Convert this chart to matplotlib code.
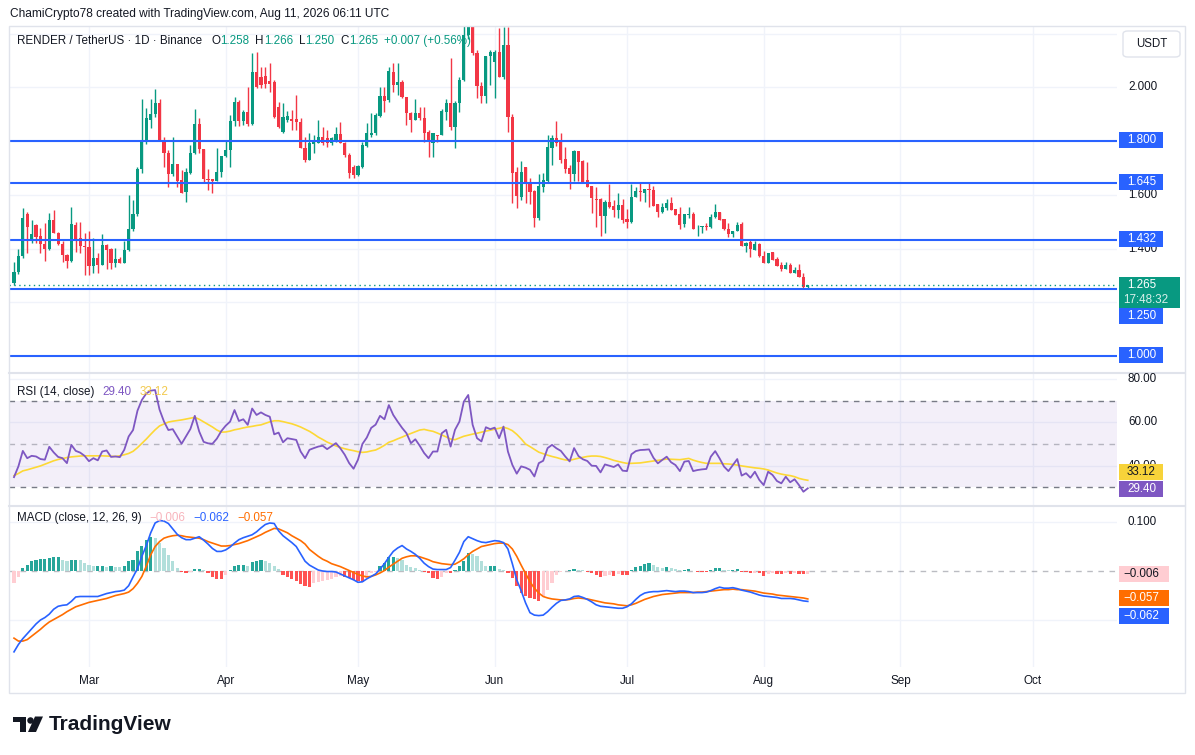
import numpy as np
import pandas as pd
import matplotlib
matplotlib.use("Agg")
import matplotlib.pyplot as plt
import matplotlib.dates as mdates
import matplotlib.transforms as mtrans
from matplotlib.patches import Rectangle, FancyBboxPatch, Polygon, Ellipse
from matplotlib.lines import Line2D

plt.rcParams["font.family"] = ["Liberation Sans", "DejaVu Sans"]

# ---------------- data (daily, from 2026-02-12) ----------------
START = "2026-02-12"
opens = [1.270, 1.311, 1.373, 1.528, 1.432, 1.487, 1.447, 1.418, 1.398, 1.506,
         1.459, 1.416, 1.375, 1.355, 1.487, 1.438, 1.411, 1.406, 1.336, 1.365,
         1.340, 1.412, 1.397, 1.347, 1.361, 1.347, 1.394, 1.471, 1.528, 1.696,
         1.796, 1.878, 1.899, 1.940, 1.804, 1.757, 1.677, 1.714, 1.655, 1.612,
         1.682, 1.754, 1.863, 1.769, 1.659, 1.657, 1.652, 1.683, 1.744, 1.767,
         1.874, 1.946, 1.874, 1.909, 1.863, 2.058, 2.039, 2.042, 2.023, 2.021,
         1.925, 1.835, 1.878, 1.882, 1.882, 1.870, 1.775, 1.729, 1.789, 1.794,
         1.814, 1.810, 1.794, 1.801, 1.826, 1.791, 1.748, 1.705, 1.674, 1.705,
         1.781, 1.822, 1.829, 1.893, 1.967, 1.953, 2.058, 2.008, 2.021, 1.963,
         1.905, 1.878, 1.905, 1.887, 1.832, 1.794, 1.822, 1.822, 1.909, 1.943,
         1.853, 1.943, 2.027, 2.194, 2.225, 2.126, 2.005, 1.968, 2.116, 2.095,
         2.132, 2.039, 2.157, 1.891, 1.686, 1.593, 1.705, 1.645, 1.614, 1.515,
         1.630, 1.651, 1.775, 1.810, 1.797, 1.733, 1.701, 1.677, 1.763, 1.726,
         1.655, 1.633, 1.584, 1.584, 1.521, 1.573, 1.558, 1.543, 1.562, 1.510,
         1.497, 1.590, 1.615, 1.608, 1.621, 1.618, 1.566, 1.537, 1.552, 1.570,
         1.547, 1.528, 1.491, 1.523, 1.527, 1.475, 1.479, 1.484, 1.481, 1.518,
         1.535, 1.510, 1.471, 1.454, 1.466, 1.491, 1.411, 1.425, 1.394, 1.417,
         1.372, 1.347, 1.386, 1.360, 1.339, 1.323, 1.339, 1.308, 1.320, 1.295,
         1.258]
highs = [1.349, 1.400, 1.550, 1.535, 1.506, 1.492, 1.475, 1.494, 1.531, 1.543,
         1.462, 1.428, 1.380, 1.553, 1.500, 1.500, 1.456, 1.466, 1.438, 1.383,
         1.453, 1.417, 1.401, 1.401, 1.370, 1.428, 1.599, 1.581, 1.705, 1.956,
         1.922, 1.956, 1.992, 1.955, 1.814, 1.767, 1.814, 1.714, 1.692, 1.698,
         1.785, 1.918, 1.884, 1.770, 1.696, 1.660, 1.773, 1.744, 1.804, 1.897,
         1.965, 1.953, 1.915, 2.002, 2.129, 2.130, 2.077, 2.077, 2.089, 2.027,
         1.946, 1.943, 1.910, 1.915, 1.971, 1.884, 1.816, 1.829, 1.822, 1.878,
         1.853, 1.841, 1.815, 1.853, 1.872, 1.797, 1.754, 1.710, 1.710, 1.797,
         1.866, 1.903, 1.903, 2.002, 2.002, 2.077, 2.089, 2.089, 2.027, 1.963,
         1.909, 1.955, 1.925, 1.925, 1.840, 1.829, 1.822, 1.921, 1.955, 2.108,
         1.950, 2.039, 2.250, 2.270, 2.270, 2.139, 2.020, 2.116, 2.139, 2.139,
         2.219, 2.225, 2.225, 1.900, 1.705, 1.726, 1.705, 1.661, 1.618, 1.676,
         1.680, 1.822, 1.822, 1.874, 1.828, 1.776, 1.711, 1.766, 1.763, 1.728,
         1.723, 1.633, 1.628, 1.587, 1.581, 1.640, 1.581, 1.605, 1.583, 1.546,
         1.640, 1.630, 1.645, 1.620, 1.645, 1.632, 1.566, 1.570, 1.583, 1.590,
         1.547, 1.556, 1.527, 1.556, 1.537, 1.487, 1.484, 1.494, 1.527, 1.564,
         1.537, 1.510, 1.494, 1.466, 1.499, 1.500, 1.425, 1.431, 1.429, 1.420,
         1.392, 1.385, 1.386, 1.370, 1.351, 1.351, 1.345, 1.330, 1.342, 1.310,
         1.266]
lows = [1.264, 1.305, 1.365, 1.385, 1.419, 1.420, 1.382, 1.355, 1.395, 1.456,
        1.412, 1.351, 1.326, 1.350, 1.388, 1.382, 1.301, 1.301, 1.308, 1.308,
        1.337, 1.323, 1.323, 1.332, 1.345, 1.345, 1.390, 1.465, 1.520, 1.680,
        1.790, 1.847, 1.890, 1.804, 1.705, 1.630, 1.670, 1.630, 1.605, 1.574,
        1.678, 1.750, 1.754, 1.643, 1.618, 1.608, 1.650, 1.667, 1.740, 1.705,
        1.856, 1.856, 1.860, 1.856, 1.860, 1.996, 1.996, 1.996, 1.984, 1.884,
        1.850, 1.831, 1.870, 1.841, 1.841, 1.775, 1.723, 1.729, 1.754, 1.791,
        1.785, 1.779, 1.785, 1.797, 1.791, 1.742, 1.661, 1.661, 1.670, 1.698,
        1.779, 1.816, 1.822, 1.890, 1.909, 1.946, 1.984, 1.971, 1.959, 1.860,
        1.835, 1.878, 1.878, 1.797, 1.739, 1.739, 1.797, 1.822, 1.878, 1.841,
        1.773, 1.909, 2.024, 2.180, 2.120, 1.959, 1.940, 1.940, 2.008, 1.959,
        2.039, 2.030, 1.835, 1.568, 1.552, 1.581, 1.568, 1.566, 1.481, 1.506,
        1.611, 1.648, 1.711, 1.781, 1.717, 1.680, 1.621, 1.650, 1.651, 1.649,
        1.628, 1.531, 1.481, 1.447, 1.456, 1.550, 1.518, 1.512, 1.494, 1.475,
        1.494, 1.590, 1.578, 1.574, 1.553, 1.558, 1.516, 1.531, 1.543, 1.543,
        1.525, 1.471, 1.479, 1.512, 1.473, 1.448, 1.459, 1.469, 1.475, 1.512,
        1.506, 1.469, 1.444, 1.444, 1.466, 1.411, 1.388, 1.370, 1.394, 1.370,
        1.345, 1.347, 1.357, 1.335, 1.318, 1.323, 1.310, 1.308, 1.293, 1.252,
        1.250]
closes = [1.311, 1.373, 1.512, 1.481, 1.453, 1.444, 1.416, 1.398, 1.506, 1.459,
          1.416, 1.375, 1.355, 1.491, 1.432, 1.411, 1.406, 1.336, 1.365, 1.340,
          1.412, 1.394, 1.347, 1.361, 1.347, 1.394, 1.471, 1.528, 1.696, 1.796,
          1.884, 1.899, 1.940, 1.804, 1.754, 1.677, 1.714, 1.651, 1.605, 1.686,
          1.754, 1.863, 1.769, 1.659, 1.655, 1.652, 1.683, 1.744, 1.767, 1.874,
          1.946, 1.874, 1.909, 1.863, 2.058, 2.002, 2.008, 2.011, 2.011, 1.891,
          1.853, 1.891, 1.893, 1.874, 1.872, 1.775, 1.729, 1.791, 1.796, 1.814,
          1.794, 1.791, 1.810, 1.826, 1.791, 1.748, 1.680, 1.674, 1.707, 1.785,
          1.829, 1.831, 1.897, 1.967, 1.950, 2.061, 2.008, 2.021, 1.963, 1.905,
          1.878, 1.905, 1.887, 1.831, 1.798, 1.829, 1.819, 1.913, 1.943, 1.853,
          1.943, 2.027, 2.194, 2.225, 2.126, 2.005, 1.968, 2.116, 2.132, 2.132,
          2.039, 2.157, 1.891, 1.680, 1.595, 1.685, 1.642, 1.611, 1.515, 1.633,
          1.655, 1.779, 1.812, 1.791, 1.729, 1.696, 1.677, 1.764, 1.723, 1.649,
          1.630, 1.587, 1.581, 1.521, 1.574, 1.556, 1.543, 1.562, 1.506, 1.500,
          1.590, 1.614, 1.612, 1.620, 1.618, 1.558, 1.537, 1.556, 1.570, 1.543,
          1.526, 1.487, 1.527, 1.527, 1.473, 1.478, 1.484, 1.479, 1.518, 1.537,
          1.506, 1.471, 1.454, 1.466, 1.487, 1.411, 1.419, 1.397, 1.417, 1.372,
          1.347, 1.385, 1.357, 1.335, 1.323, 1.339, 1.310, 1.320, 1.295, 1.258,
          1.265]

rsi = [34.6, 39.6, 46.8, 43.4, 44.5, 44.2, 43.0, 42.7, 48.7, 46.1,
       44.0, 43.4, 41.1, 49.6, 46.8, 46.0, 44.5, 42.0, 43.4, 42.4,
       46.5, 47.0, 44.0, 44.2, 43.9, 47.3, 53.5, 56.5, 65.5, 70.5,
       73.5, 74.8, 75.1, 66.0, 60.5, 56.5, 56.9, 53.5, 50.1, 53.5,
       57.0, 63.1, 55.8, 51.0, 50.3, 50.1, 52.5, 56.0, 58.5, 60.4,
       65.8, 60.7, 61.5, 58.9, 66.5, 63.5, 64.7, 63.5, 62.7, 54.5,
       55.3, 50.8, 52.7, 52.3, 51.9, 46.5, 43.4, 47.3, 48.1, 48.8,
       49.2, 47.6, 49.0, 50.4, 48.0, 45.0, 41.1, 38.5, 42.7, 50.0,
       53.0, 57.5, 59.0, 63.1, 61.5, 68.1, 63.5, 60.4, 57.5, 55.0,
       50.4, 52.2, 49.2, 45.8, 43.4, 46.5, 46.5, 55.0, 56.6, 48.8,
       56.6, 60.4, 69.7, 72.8, 58.9, 52.7, 51.2, 57.8, 56.9, 57.6,
       52.7, 58.1, 46.5, 40.3, 36.2, 39.6, 39.0, 38.0, 34.9, 41.1,
       42.2, 48.1, 49.6, 48.0, 46.8, 44.2, 41.9, 48.1, 44.4, 42.9,
       42.1, 39.9, 39.8, 36.8, 40.5, 39.9, 39.3, 40.5, 37.6, 37.4,
       45.2, 46.7, 47.2, 47.3, 47.5, 43.6, 41.0, 42.6, 44.1, 41.5,
       40.2, 37.4, 41.8, 42.1, 37.4, 37.9, 38.2, 38.4, 44.1, 46.7,
       43.3, 39.5, 37.4, 40.2, 43.0, 35.3, 36.4, 34.3, 37.1, 33.3,
       30.9, 37.1, 35.6, 32.8, 31.7, 34.8, 32.2, 33.6, 30.9, 27.8,
       29.4]
rsi_ma = [35.3, 36.3, 37.5, 38.0, 38.6, 39.2, 39.8, 40.6, 41.4, 42.2,
          42.8, 43.2, 43.7, 44.0, 44.2, 44.4, 44.5, 44.5, 44.5, 44.5,
          44.5, 44.4, 44.3, 44.2, 44.5, 45.0, 45.6, 46.6, 48.3, 50.3,
          52.3, 54.5, 56.6, 58.4, 59.3, 60.2, 60.6, 60.9, 61.2, 61.6,
          62.0, 62.4, 61.5, 60.3, 59.1, 57.9, 56.5, 55.5, 55.6, 56.0,
          56.6, 57.0, 57.5, 57.9, 58.2, 58.6, 58.9, 59.6, 60.3, 60.8,
          60.8, 60.4, 59.9, 59.4, 58.7, 57.9, 56.9, 55.9, 54.6, 53.2,
          52.1, 50.9, 50.0, 49.1, 48.4, 47.8, 47.3, 46.9, 46.4, 46.1,
          46.3, 46.8, 47.2, 48.2, 49.4, 50.8, 51.5, 52.4, 53.2, 54.1,
          54.9, 55.7, 56.5, 56.8, 56.3, 55.9, 55.1, 54.2, 53.3, 52.3,
          52.0, 52.8, 53.6, 54.1, 54.6, 55.0, 55.5, 56.0, 56.4, 56.9,
          57.3, 57.8, 57.2, 56.2, 54.5, 52.4, 50.0, 48.8, 47.5, 46.2,
          45.5, 44.8, 44.2, 43.7, 43.1, 42.6, 42.4, 42.9, 43.4, 43.8,
          44.2, 44.4, 44.4, 44.2, 43.7, 43.1, 42.4, 41.9, 41.4, 41.0,
          41.0, 41.1, 41.2, 41.5, 41.8, 42.1, 42.4, 42.7, 43.0, 42.9,
          42.8, 42.7, 43.0, 43.3, 42.5, 41.9, 41.4, 41.0, 41.0, 41.0,
          41.0, 40.8, 40.7, 40.5, 40.2, 39.8, 39.5, 39.2, 38.9, 38.7,
          38.4, 37.9, 37.2, 36.5, 36.0, 35.6, 35.3, 34.8, 34.0, 33.5,
          33.12]
macd = [-0.165, -0.150, -0.138, -0.128, -0.118, -0.108, -0.100, -0.095, -0.088, -0.078,
        -0.072, -0.070, -0.069, -0.062, -0.053, -0.052, -0.052, -0.052, -0.052, -0.052,
        -0.049, -0.046, -0.044, -0.042, -0.041, -0.039, -0.030, -0.012, 0.005, 0.030,
        0.052, 0.078, 0.098, 0.103, 0.102, 0.097, 0.086, 0.075, 0.068, 0.064,
        0.064, 0.067, 0.070, 0.063, 0.055, 0.046, 0.040, 0.040, 0.043, 0.049,
        0.057, 0.064, 0.068, 0.071, 0.074, 0.080, 0.088, 0.095, 0.098, 0.097,
        0.082, 0.072, 0.065, 0.058, 0.050, 0.035, 0.020, 0.012, 0.007, 0.002,
        0.000, -0.001, -0.001, -0.002, -0.006, -0.010, -0.014, -0.018, -0.023, -0.022,
        -0.016, -0.011, -0.006, 0.004, 0.015, 0.028, 0.040, 0.047, 0.052, 0.045,
        0.040, 0.034, 0.026, 0.016, 0.009, 0.004, 0.003, 0.003, 0.003, 0.007,
        0.022, 0.038, 0.060, 0.070, 0.066, 0.062, 0.059, 0.058, 0.060, 0.062,
        0.061, 0.058, 0.045, 0.015, -0.018, -0.040, -0.065, -0.085, -0.090, -0.091,
        -0.090, -0.083, -0.074, -0.066, -0.060, -0.059, -0.057, -0.052, -0.051, -0.054,
        -0.058, -0.063, -0.069, -0.072, -0.073, -0.074, -0.075, -0.076, -0.076, -0.073,
        -0.067, -0.058, -0.050, -0.045, -0.043, -0.042, -0.042, -0.041, -0.040, -0.041,
        -0.042, -0.041, -0.041, -0.042, -0.044, -0.044, -0.044, -0.043, -0.040, -0.036,
        -0.033, -0.035, -0.035, -0.034, -0.036, -0.039, -0.041, -0.043, -0.046, -0.049,
        -0.051, -0.052, -0.053, -0.054, -0.056, -0.056, -0.056, -0.057, -0.059, -0.061,
        -0.062]
signal = [-0.137, -0.143, -0.143, -0.140, -0.133, -0.126, -0.119, -0.111, -0.104, -0.099,
          -0.094, -0.089, -0.083, -0.078, -0.073, -0.070, -0.067, -0.064, -0.062, -0.060,
          -0.058, -0.056, -0.053, -0.050, -0.048, -0.046, -0.043, -0.036, -0.025, -0.011,
          0.010, 0.033, 0.050, 0.060, 0.067, 0.070, 0.072, 0.073, 0.072, 0.070,
          0.069, 0.068, 0.067, 0.064, 0.060, 0.057, 0.054, 0.051, 0.051, 0.052,
          0.054, 0.056, 0.059, 0.062, 0.066, 0.070, 0.074, 0.079, 0.083, 0.087,
          0.086, 0.082, 0.078, 0.072, 0.067, 0.062, 0.055, 0.044, 0.037, 0.030,
          0.024, 0.020, 0.015, 0.012, 0.009, 0.005, 0.001, -0.003, -0.007, -0.010,
          -0.012, -0.011, -0.008, -0.004, 0.001, 0.008, 0.014, 0.020, 0.026, 0.029,
          0.031, 0.031, 0.029, 0.026, 0.023, 0.019, 0.017, 0.015, 0.014, 0.013,
          0.014, 0.019, 0.025, 0.033, 0.040, 0.045, 0.050, 0.052, 0.054, 0.056,
          0.057, 0.057, 0.054, 0.045, 0.030, 0.012, -0.005, -0.022, -0.035, -0.045,
          -0.052, -0.055, -0.057, -0.058, -0.059, -0.059, -0.058, -0.056, -0.055, -0.056,
          -0.057, -0.059, -0.061, -0.063, -0.065, -0.066, -0.067, -0.069, -0.070, -0.071,
          -0.069, -0.066, -0.062, -0.058, -0.055, -0.052, -0.050, -0.048, -0.047, -0.046,
          -0.045, -0.044, -0.044, -0.044, -0.044, -0.043, -0.043, -0.042, -0.041, -0.040,
          -0.039, -0.038, -0.038, -0.037, -0.038, -0.038, -0.039, -0.040, -0.041, -0.043,
          -0.045, -0.046, -0.047, -0.049, -0.050, -0.051, -0.052, -0.053, -0.054, -0.055,
          -0.057]
hist = [-0.025, -0.012, 0.006, 0.013, 0.020, 0.023, 0.024, 0.025, 0.027, 0.029,
        0.029, 0.023, 0.020, 0.022, 0.023, 0.022, 0.016, 0.013, 0.010, 0.010,
        0.010, 0.009, 0.010, 0.009, 0.008, 0.010, 0.020, 0.023, 0.040, 0.051,
        0.064, 0.070, 0.068, 0.058, 0.047, 0.033, 0.020, 0.006, -0.001, -0.004,
        -0.001, 0.004, 0.004, 0.003, -0.005, -0.012, -0.016, -0.016, -0.008, 0.003,
        0.011, 0.013, 0.013, 0.010, 0.018, 0.020, 0.022, 0.021, 0.016, 0.010,
        0.004, -0.008, -0.012, -0.016, -0.021, -0.026, -0.030, -0.033, -0.025, -0.023,
        -0.021, -0.019, -0.016, -0.012, -0.010, -0.012, -0.014, -0.018, -0.021, -0.023,
        -0.014, -0.004, -0.001, 0.010, 0.016, 0.029, 0.029, 0.027, 0.023, 0.013,
        0.008, 0.006, 0.003, -0.001, -0.005, -0.014, -0.016, -0.012, -0.004, -0.005,
        0.003, 0.010, 0.020, 0.037, 0.035, 0.030, 0.020, 0.010, 0.010, 0.010,
        0.004, 0.003, -0.004, -0.014, -0.031, -0.045, -0.052, -0.055, -0.058, -0.062,
        -0.052, -0.038, -0.025, -0.008, -0.001, 0.000, 0.002, 0.004, 0.003, 0.002,
        -0.003, -0.005, -0.008, -0.012, -0.010, -0.008, -0.010, -0.006, -0.008, -0.008,
        0.002, 0.009, 0.011, 0.014, 0.016, 0.012, 0.009, 0.007, 0.009, 0.007,
        0.005, 0.002, 0.002, 0.004, 0.000, -0.001, -0.001, -0.001, 0.003, 0.007,
        0.007, 0.003, 0.002, 0.002, 0.004, -0.001, -0.003, -0.005, -0.004, -0.005,
        -0.010, -0.007, -0.004, -0.007, -0.007, -0.005, -0.006, -0.005, -0.006, -0.007,
        -0.006]

levels = [1.800, 1.645, 1.432, 1.250, 1.000]
price_grid = [1.2, 1.4, 1.6, 1.8, 2.0, 2.2]
price_labels = [1.4, 1.6, 2.0]
rsi_ticks = [40, 60, 80]
macd_ticks = [-0.1, 0.1]
month_starts = ["2026-03-01", "2026-04-01", "2026-05-01", "2026-06-01",
                "2026-07-01", "2026-08-01", "2026-09-01", "2026-10-01"]
month_labels = ["Mar", "Apr", "May", "Jun", "Jul", "Aug", "Sep", "Oct"]
countdown = "17:48:32"

# ---------------- styling ----------------
GREEN = "#089981"
RED = "#F23645"
BLUE = "#2962FF"
PURPLE = "#7E57C2"
YELLOW = "#FDD835"
ORANGE = "#FF6D00"
TXT = "#131722"
GRID = "#F0F3FA"
BORDER = "#E0E3EB"
MINUS = "\u2212"


def fmt(v, n):
    return (MINUS if v < 0 else "") + f"{abs(v):.{n}f}"


W, H = 1195, 755
fig = plt.figure(figsize=(W / 100, H / 100), dpi=100)
fig.patch.set_facecolor("white")


def fx(p):
    return p / W


def fy(p):
    return 1 - p / H


PL, PR = 9, 1117


def make_ax(top, bottom):
    ax = fig.add_axes([fx(PL), fy(bottom), (PR - PL) / W, (bottom - top) / H])
    ax.set_axis_off()
    return ax


ax_p = make_ax(26, 372)
ax_r = make_ax(373, 505)
ax_m = make_ax(506, 667)

dates = pd.date_range(START, periods=len(closes), freq="D")
xs = mdates.date2num(dates)
x0 = xs[0]
xl = (x0 - 5 / 4.41, x0 + (PR - 14) / 4.41)
months = mdates.date2num(pd.to_datetime(month_starts))

for ax in (ax_p, ax_r, ax_m):
    ax.set_xlim(*xl)
    for m in months:
        ax.axvline(m, color=GRID, lw=1, zorder=0)

ax_p.set_ylim(0.9405, 2.228)
ax_r.set_ylim(21.63, 83.02)
ax_m.set_ylim(-0.1959, 0.1327)

# ---- price pane
for t in price_grid:
    ax_p.axhline(t, color=GRID, lw=1, zorder=0)
o, h, l, c = map(np.array, (opens, highs, lows, closes))
up = c >= o
cols = np.where(up, GREEN, RED)
ax_p.vlines(xs, l, h, colors=cols, lw=1, zorder=3)
body = np.maximum(np.abs(c - o), 0.003)
ax_p.bar(xs, body, bottom=np.minimum(o, c), width=0.72, color=cols, lw=0, zorder=4)
for v in levels:
    ax_p.axhline(v, color=BLUE, lw=1.5, zorder=5)
ax_p.axhline(c[-1], color=GREEN, lw=1, ls=(0, (1, 2.5)), zorder=5)

# ---- RSI pane
for t in rsi_ticks:
    ax_r.axhline(t, color=GRID, lw=1, zorder=0)
ax_r.axhspan(30, 70, color=PURPLE, alpha=0.09, lw=0, zorder=1)
ax_r.axhline(70, color="#787B86", lw=1, ls=(0, (4, 4)), zorder=2)
ax_r.axhline(30, color="#787B86", lw=1, ls=(0, (4, 4)), zorder=2)
ax_r.axhline(50, color="#787B86", lw=1, ls=(0, (4, 4)), alpha=0.5, zorder=2)
ax_r.plot(xs, rsi_ma, color=YELLOW, lw=1.2, zorder=3)
ax_r.plot(xs, rsi, color=PURPLE, lw=1.3, zorder=4)

# ---- MACD pane
for t in macd_ticks:
    ax_m.axhline(t, color=GRID, lw=1, zorder=0)
ax_m.axhline(0, color="#787B86", lw=1, ls=(0, (4, 4)), alpha=0.5, zorder=1)
hcols = []
for i, v in enumerate(hist):
    prev = hist[i - 1] if i > 0 else -1
    if v >= 0:
        hcols.append("#26A69A" if v >= prev else "#B2DFDB")
    else:
        hcols.append("#FFCDD2" if v > prev else "#FF5252")
ax_m.bar(xs, hist, width=0.72, color=hcols, lw=0, zorder=2)
ax_m.plot(xs, signal, color=ORANGE, lw=1.2, zorder=3)
ax_m.plot(xs, macd, color=BLUE, lw=1.2, zorder=4)

# ---------------- frame / separators ----------------
fig.add_artist(Rectangle((fx(9), fy(693)), (1185 - 9) / W, (693 - 26) / H, fill=False,
                         ec=BORDER, lw=1, transform=fig.transFigure, zorder=1))
for ysep in (372.5, 505.5):
    fig.add_artist(Line2D([fx(9), fx(1185)], [fy(ysep)] * 2, color=BORDER, lw=1.5,
                          transform=fig.transFigure, zorder=1))

# ---------------- text ----------------
renderer = fig.canvas.get_renderer()


def seq(x_px, y_px, pieces, size=8.4):
    x = x_px
    for txt, color, gap in pieces:
        t = fig.text(fx(x), fy(y_px), txt, color=color, fontsize=size,
                     ha="left", va="center", zorder=30)
        x += t.get_window_extent(renderer).width + gap


fig.text(fx(10), fy(14), "ChamiCrypto78 created with TradingView.com, Aug 11, 2026 06:11 UTC",
         fontsize=8.6, color=TXT, ha="left", va="center")

chg = c[-1] - c[-2]
pct = chg / c[-2] * 100
seq(17, 41, [("RENDER / TetherUS \u00b7 1D \u00b7 Binance", TXT, 9),
             ("O", TXT, 0), (f"{o[-1]:.3f}", GREEN, 6),
             ("H", TXT, 0), (f"{h[-1]:.3f}", GREEN, 6),
             ("L", TXT, 0), (f"{l[-1]:.3f}", GREEN, 6),
             ("C", TXT, 0), (f"{c[-1]:.3f}", GREEN, 6),
             (f"+{chg:.3f} (+{pct:.2f}%)", GREEN, 0)])
seq(17, 392, [("RSI (14, close)", TXT, 8), (f"{rsi[-1]:.2f}", PURPLE, 8),
              (f"{rsi_ma[-1]:.2f}", "#F2C94C", 0)])
seq(17, 518, [("MACD (close, 12, 26, 9)", TXT, 8), (fmt(hist[-1], 3), "#F8B4BC", 8),
              (fmt(macd[-1], 3), BLUE, 8), (fmt(signal[-1], 3), ORANGE, 0)])


def ypx(ax, v):
    return H - ax.transData.transform((x0, v))[1]


AX_LBL = 1128
for t in price_labels:
    fig.text(fx(AX_LBL), fy(ypx(ax_p, t)), f"{t:.3f}", fontsize=8.4, color=TXT,
             ha="left", va="center", zorder=10)
for t in [60, 80, 40]:
    fig.text(fx(AX_LBL), fy(ypx(ax_r, t)), f"{t:.2f}",
             fontsize=8.4, color=TXT, ha="left", va="center", zorder=10)
fig.text(fx(AX_LBL), fy(ypx(ax_m, 0.1)), "0.100", fontsize=8.4, color=TXT,
         ha="left", va="center", zorder=10)


def tag(y_px, text, fc, tc, w=44, hgt=16, xs0=1119, pad=8, size=8.4):
    fig.add_artist(Rectangle((fx(xs0), fy(y_px + hgt / 2)), w / W, hgt / H,
                             transform=fig.transFigure, fc=fc, ec="none", zorder=20))
    fig.text(fx(xs0 + pad), fy(y_px), text, ha="left", va="center", color=tc,
             fontsize=size, zorder=21)


for v in [1.800, 1.645, 1.432, 1.000]:
    tag(ypx(ax_p, v) - 1, f"{v:.3f}", BLUE, "white")
tag(316, f"{levels[3]:.3f}", BLUE, "white")
py = ypx(ax_p, c[-1])
fig.add_artist(Rectangle((fx(1119), fy(py + 23.5)), 61 / W, 31.5 / H,
                         transform=fig.transFigure, fc=GREEN, ec="none", zorder=20))
fig.text(fx(1127), fy(py), f"{c[-1]:.3f}", ha="left", va="center", color="white",
         fontsize=8.4, zorder=21)
fig.text(fx(1123), fy(py + 15), countdown, ha="left", va="center", color="#D8F0EB",
         fontsize=8.4, zorder=21)

tag(472, f"{rsi_ma[-1]:.2f}", "#F7D33A", TXT)
tag(489, f"{rsi[-1]:.2f}", PURPLE, "white")
tag(ypx(ax_m, hist[-1]), fmt(hist[-1], 3), "#FFCDD2", TXT, w=50, pad=4)
tag(598, fmt(signal[-1], 3), ORANGE, "white", w=50, pad=4)
tag(616, fmt(macd[-1], 3), BLUE, "white", w=50, pad=4)

# USDT button
fig.add_artist(FancyBboxPatch((fx(1123), fy(57)), 57 / W, 26 / H,
                              boxstyle="round,pad=0,rounding_size=0.004",
                              transform=fig.transFigure, fc="white", ec=BORDER, lw=1, zorder=22))
fig.text(fx(1151.5), fy(44), "USDT", ha="center", va="center", fontsize=8.3, color=TXT, zorder=23)

# time axis labels
ttr = mtrans.blended_transform_factory(ax_m.transData, fig.transFigure)
for m, lab in zip(months, month_labels):
    fig.text(m, fy(681), lab, transform=ttr, ha="center", va="center", fontsize=8.5,
             color=TXT)

# TradingView logo
LOGO = "#131722"
fig.add_artist(Rectangle((fx(12.5), fy(722)), 13.5 / W, 5.5 / H, transform=fig.transFigure,
                         fc=LOGO, ec="none"))
fig.add_artist(Rectangle((fx(19.5), fy(732)), 6.5 / W, 15.5 / H, transform=fig.transFigure,
                         fc=LOGO, ec="none"))
fig.add_artist(Ellipse((fx(30.5), fy(720.5)), 6.5 / W, 6.5 / H, transform=fig.transFigure,
                       fc=LOGO, ec="none"))
fig.add_artist(Polygon([(fx(35), fy(716.5)), (fx(43), fy(716.5)), (fx(36), fy(732)),
                        (fx(28), fy(732))], closed=True, transform=fig.transFigure,
                       fc=LOGO, ec="none"))
fig.text(fx(49), fy(724.5), "TradingView", fontsize=15, fontweight="bold", color=LOGO,
         ha="left", va="center")

fig.savefig("out.png", dpi=100, facecolor="white")
